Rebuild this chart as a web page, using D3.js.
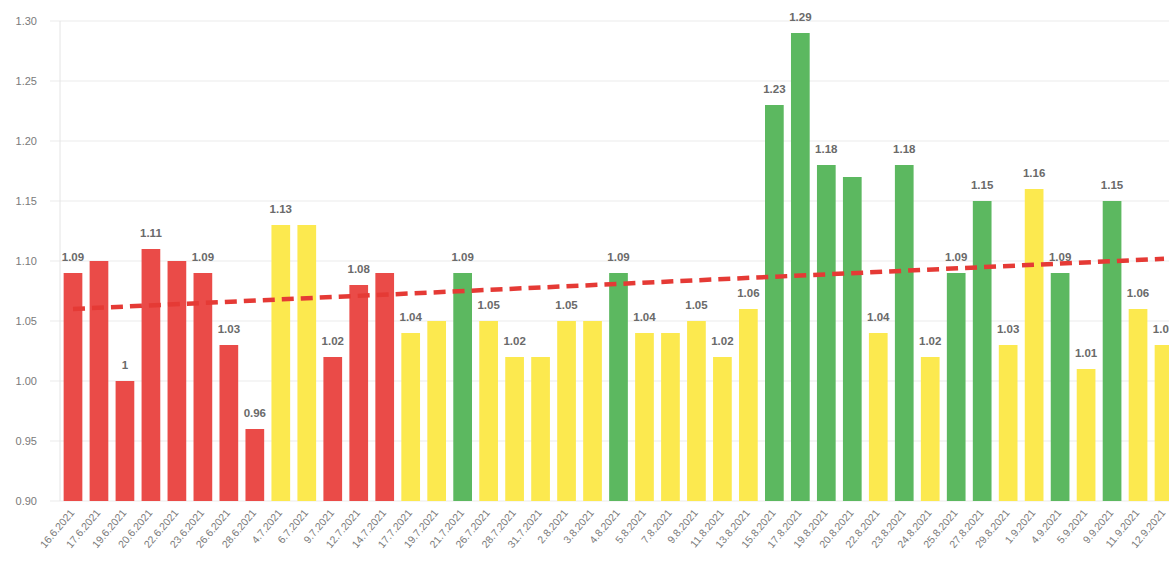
<!DOCTYPE html>
<html>
<head>
<meta charset="utf-8">
<script src="https://cdn.jsdelivr.net/npm/d3@7"></script>
<style>
  body { margin: 0; background: #fff; }
  svg { display: block; font-family: "Liberation Sans", Arial, sans-serif; }
</style>
</head>
<body>
<script>
// chart data
const dates = [
  "16.6.2021", "17.6.2021", "19.6.2021", "20.6.2021", "22.6.2021", "23.6.2021", "26.6.2021", "28.6.2021",
  "4.7.2021", "6.7.2021", "9.7.2021", "12.7.2021", "14.7.2021", "17.7.2021", "19.7.2021", "21.7.2021",
  "26.7.2021", "28.7.2021", "31.7.2021", "2.8.2021", "3.8.2021", "4.8.2021", "5.8.2021", "7.8.2021",
  "9.8.2021", "11.8.2021", "13.8.2021", "15.8.2021", "17.8.2021", "19.8.2021", "20.8.2021", "22.8.2021",
  "23.8.2021", "24.8.2021", "25.8.2021", "27.8.2021", "29.8.2021", "1.9.2021", "4.9.2021", "5.9.2021",
  "9.9.2021", "11.9.2021", "12.9.2021"
];
const values = [
  1.09, 1.10, 1.00, 1.11, 1.10, 1.09, 1.03, 0.96,
  1.13, 1.13, 1.02, 1.08, 1.09, 1.04, 1.05, 1.09,
  1.05, 1.02, 1.02, 1.05, 1.05, 1.09, 1.04, 1.04,
  1.05, 1.02, 1.06, 1.23, 1.29, 1.18, 1.17, 1.04,
  1.18, 1.02, 1.09, 1.15, 1.03, 1.16, 1.09, 1.01,
  1.15, 1.06, 1.03
];
const status = [
  "r", "r", "r", "r", "r", "r", "r", "r",
  "y", "y", "r", "r", "r", "y", "y", "g",
  "y", "y", "y", "y", "y", "g", "y", "y",
  "y", "y", "y", "g", "g", "g", "g", "y",
  "g", "y", "g", "g", "y", "y", "g", "y",
  "g", "y", "y"
];
const yTicks = [0.90, 0.95, 1.00, 1.05, 1.10, 1.15, 1.20, 1.25, 1.30];

const colors = { r: "#ea4b48", y: "#fce94f", g: "#5cb860" };
const width = 1169, height = 563;
const plotL = 60, plotR = 1177, plotT = 21, plotB = 501;

const svg = d3.select("body").append("svg")
    .attr("width", width)
    .attr("height", height);

const x = d3.scaleBand().domain(dates).range([plotL, plotR])
    .paddingInner(0.28).paddingOuter(0.14);
const y = d3.scaleLinear().domain([0.9, 1.3]).range([plotB, plotT]);
const cx = d => x(d) + x.bandwidth() / 2;

// grid
svg.append("g").selectAll("line")
    .data(yTicks)
    .enter().append("line")
    .attr("x1", plotL - 10).attr("x2", plotR)
    .attr("y1", d => y(d)).attr("y2", d => y(d))
    .style("stroke", "#ebebeb");
svg.append("line")
    .attr("x1", plotL).attr("x2", plotL)
    .attr("y1", plotT).attr("y2", plotB)
    .style("stroke", "#e4e4e4");

const yAxis = svg.append("g")
    .attr("transform", `translate(${plotL - 23},0)`)
    .call(d3.axisLeft(y).tickValues(yTicks).tickFormat(d3.format(".2f")).tickSize(0).tickPadding(0));
yAxis.select(".domain").remove();
yAxis.selectAll("text").style("font-size", "11px").style("fill", "#7a7a7a");

const xAxis = svg.append("g")
    .attr("transform", `translate(0,${plotB})`)
    .call(d3.axisBottom(x).tickSize(0).tickPadding(0));
xAxis.select(".domain").remove();
xAxis.selectAll("text")
    .attr("y", 0).attr("dy", 0)
    .attr("transform", "translate(2,12) rotate(-50)")
    .style("text-anchor", "end")
    .style("font-size", "10.5px")
    .style("fill", "#7a7a7a");

// bars
svg.append("g").selectAll("rect")
    .data(dates)
    .enter().append("rect")
    .attr("x", d => x(d))
    .attr("width", x.bandwidth())
    .attr("y", (d, i) => y(values[i]))
    .attr("height", (d, i) => plotB - y(values[i]))
    .style("fill", (d, i) => colors[status[i]]);

// linear trend over the bar index
const n = values.length;
const mx = d3.mean(d3.range(n)), my = d3.mean(values);
const slope = d3.sum(values, (v, i) => (i - mx) * (v - my)) / d3.sum(d3.range(n), i => (i - mx) * (i - mx));
const icpt = my - slope * mx;
svg.append("line")
    .attr("x1", cx(dates[0])).attr("y1", y(icpt))
    .attr("x2", cx(dates[n - 1])).attr("y2", y(icpt + slope * (n - 1)))
    .style("stroke", "#e53a35")
    .style("stroke-width", 4.5)
    .style("stroke-dasharray", "12,7");

// value labels, hiding ones that collide with an earlier shown label
const labelG = svg.append("g");
const shown = [];
dates.forEach((d, i) => {
  const t = labelG.append("text")
      .attr("x", cx(d))
      .attr("y", y(values[i]) - 12)
      .attr("text-anchor", "middle")
      .style("font-size", "11.5px")
      .style("font-weight", "bold")
      .style("fill", "#6a6a6a")
      .text(String(+values[i].toFixed(2)));
  const w = t.node().getComputedTextLength() + 8;
  const box = { x0: cx(d) - w / 2, x1: cx(d) + w / 2, y0: y(values[i]) - 30, y1: y(values[i]) - 8 };
  const hit = shown.some(b => box.x0 < b.x1 && box.x1 > b.x0 && box.y0 < b.y1 && box.y1 > b.y0);
  if (hit) t.remove();
  else shown.push(box);
});
</script>
</body>
</html>
